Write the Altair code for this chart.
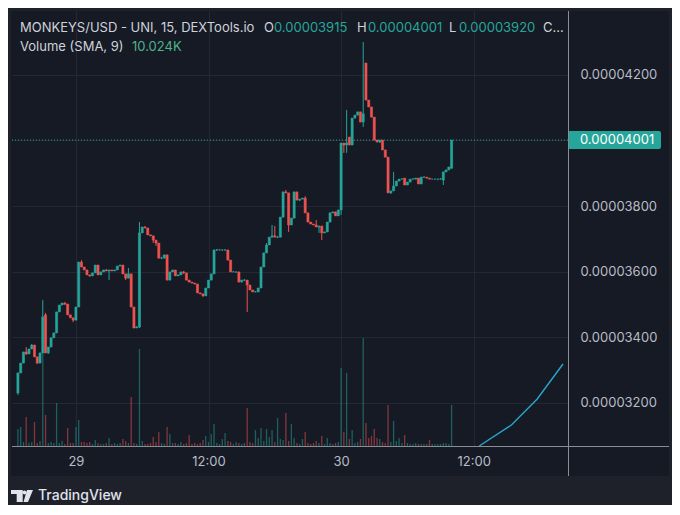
import altair as alt
import pandas as pd
import numpy as np

SCALE = 1e-8  # prices below are in units of 0.00000001 USD

O = [3230,3291,3321,3355,3349,3364,3376,3340,3321,3352,
     3468,3352,3370,3398,3413,3477,3498,3504,3501,3468,
     3459,3452,3492,3629,3614,3605,3590,3587,3596,3620,
     3590,3599,3605,3602,3605,3602,3605,3617,3620,3593,
     3580,3593,3492,3428,3431,3718,3736,3733,3712,3709,
     3696,3687,3641,3641,3651,3574,3599,3605,3587,3590,
     3599,3596,3574,3568,3565,3562,3535,3532,3526,3550,
     3574,3593,3666,3666,3666,3666,3666,3635,3599,3599,
     3599,3568,3574,3574,3559,3544,3538,3538,3550,3614,
     3657,3681,3705,3709,3705,3705,3766,3843,3840,3742,
     3763,3843,3818,3821,3824,3779,3751,3745,3742,3736,
     3739,3718,3721,3751,3779,3782,3770,3788,3992,3986,
     4010,3986,4068,4077,4087,4056,4236,4123,4102,4071,
     4001,3995,4001,3971,3949,3840,3846,3861,3876,3882,
     3885,3864,3873,3882,3882,3885,3867,3888,3888,3885,
     3882,3882,3882,3882,3879,3904,3910,3915]
H = [3291,3321,3355,3370,3364,3379,3376,3340,3352,3513,
     3474,3370,3398,3413,3477,3498,3504,3507,3501,3468,
     3459,3492,3629,3635,3614,3605,3590,3596,3620,3620,
     3599,3605,3608,3605,3605,3605,3617,3620,3620,3593,
     3611,3593,3492,3434,3751,3736,3739,3733,3712,3709,
     3696,3687,3645,3651,3651,3599,3605,3605,3590,3599,
     3602,3596,3574,3568,3565,3562,3535,3532,3550,3574,
     3593,3666,3669,3669,3666,3668,3666,3635,3602,3599,
     3599,3574,3577,3574,3559,3544,3541,3550,3614,3657,
     3687,3705,3742,3739,3709,3766,3843,3849,3840,3763,
     3843,3843,3821,3824,3830,3779,3751,3745,3757,3739,
     3739,3721,3751,3779,3782,3782,3788,3992,3992,4093,
     4010,4068,4077,4087,4087,4300,4236,4123,4102,4071,
     4001,4001,4001,3971,3949,3846,3904,3876,3882,3885,
     3885,3873,3882,3885,3885,3885,3888,3891,3888,3885,
     3882,3882,3882,3885,3904,3910,3919,4001]
L = [3224,3291,3321,3346,3349,3364,3340,3318,3321,3352,
     3352,3349,3370,3398,3413,3477,3498,3498,3468,3459,
     3446,3452,3492,3614,3605,3590,3584,3587,3596,3590,
     3590,3599,3602,3574,3602,3602,3605,3617,3593,3574,
     3580,3492,3428,3428,3428,3718,3733,3712,3709,3687,
     3678,3641,3638,3641,3574,3574,3599,3587,3587,3590,
     3593,3574,3568,3565,3562,3535,3532,3523,3526,3550,
     3574,3593,3663,3666,3663,3664,3635,3599,3599,3596,
     3568,3568,3571,3477,3544,3538,3538,3538,3550,3614,
     3657,3681,3705,3705,3702,3705,3766,3840,3721,3742,
     3763,3818,3815,3821,3779,3751,3745,3742,3736,3718,
     3696,3718,3721,3751,3779,3770,3770,3773,3962,3962,
     3986,3986,4068,4077,4056,4041,4123,4102,4071,4001,
     3995,3992,3971,3949,3840,3837,3846,3861,3876,3882,
     3864,3864,3873,3882,3882,3867,3867,3888,3885,3882,
     3882,3882,3879,3882,3864,3904,3910,3915]
C = [3291,3321,3355,3349,3364,3376,3340,3321,3352,3462,
     3352,3370,3398,3413,3477,3498,3504,3501,3468,3459,
     3452,3492,3629,3614,3605,3590,3587,3596,3620,3590,
     3599,3605,3602,3605,3602,3605,3617,3620,3593,3580,
     3593,3492,3428,3431,3718,3736,3733,3712,3709,3696,
     3687,3641,3641,3651,3574,3599,3605,3587,3590,3599,
     3596,3574,3568,3565,3562,3535,3532,3526,3550,3574,
     3593,3666,3666,3666,3666,3666,3635,3599,3599,3599,
     3568,3574,3574,3559,3544,3538,3538,3550,3614,3657,
     3681,3705,3709,3705,3705,3766,3843,3840,3742,3763,
     3843,3818,3821,3824,3779,3751,3745,3742,3736,3739,
     3718,3721,3751,3779,3782,3770,3788,3992,3986,3992,
     3986,4068,4077,4087,4056,4081,4123,4102,4071,4001,
     3995,4001,3971,3949,3840,3846,3861,3876,3882,3882,
     3864,3873,3882,3882,3885,3867,3888,3888,3885,3882,
     3882,3882,3882,3882,3904,3910,3919,4001]
VOL = [17,19,4,29,3,4,24,3,5,120,
       31,3,4,3,43,3,5,2,18,3,
       3,19,26,4,4,3,4,2,6,3,
       2,2,3,8,2,3,2,3,7,5,
       3,49,3,2,97,5,2,2,3,9,
       4,14,3,2,19,12,3,3,2,4,
       2,3,11,2,3,2,3,6,10,4,
       12,22,3,2,7,13,5,4,2,4,
       3,2,3,38,4,3,16,8,18,5,
       17,9,16,4,28,7,6,33,5,22,
       8,3,2,7,14,3,2,3,5,3,
       10,2,8,3,2,3,4,78,14,73,
       7,16,3,4,7,108,23,8,10,17,
       8,7,4,3,41,4,25,5,8,3,
       11,3,2,2,3,2,2,2,2,6,
       2,2,2,2,3,3,2,41]  # thousands

SMA_T = ["2024-05-30T12:30:00", "2024-05-30T15:25:00", "2024-05-30T17:45:00", "2024-05-30T20:05:00"]
SMA_V = [0, 21, 47, 82]

PRICE_TICKS = [3200, 3400, 3600, 3800, 4000, 4200]
LAST_PRICE = 4001
LAST_LABEL = "0.00004001"

HEAD_TEXT = ["MONKEYS/USD - UNI, 15, DEXTools.io", "O", "0.00003915", "H", "0.00004001",
             "L", "0.00003920", "C...", "Volume (SMA, 9)", "10.024K"]

UP, DOWN = "#26a69a", "#ef5350"
INNER, OUTER = "#161a25", "#1e212a"
GRID = "#242834"
LABEL = "#b9bcc4"
TXT = "#cfd2d9"
HEAD_COLOR = [TXT, TXT, UP, TXT, UP, TXT, UP, TXT, TXT, "#4db38a"]
HEAD_X = [8, 252, 262, 345, 356, 437, 447, 531, 8, 120]
HEAD_Y = [17, 17, 17, 17, 17, 17, 17, 17, 36, 36]

W, Hh = 556, 435

times = pd.date_range("2024-05-28 18:45", periods=len(O), freq="15min")
df = pd.DataFrame({
    "t": times,
    "O": np.array(O) * SCALE, "H": np.array(H) * SCALE,
    "L": np.array(L) * SCALE, "C": np.array(C) * SCALE,
    "V": VOL,
})
df["col"] = np.where(df["C"] >= df["O"], UP, DOWN)
sma = pd.DataFrame({"t": pd.to_datetime(SMA_T), "v": SMA_V})
last = pd.DataFrame({"p": [LAST_PRICE * SCALE], "s": [LAST_LABEL]})

xscale = alt.Scale(domain=[alt.DateTime(year=2024, month=5, date=28, hours=18, minutes=40),
                           alt.DateTime(year=2024, month=5, date=30, hours=20, minutes=5)])
xaxis = alt.Axis(
    values=[alt.DateTime(year=2024, month=5, date=29, hours=0),
            alt.DateTime(year=2024, month=5, date=29, hours=12),
            alt.DateTime(year=2024, month=5, date=30, hours=0),
            alt.DateTime(year=2024, month=5, date=30, hours=12)],
    labelExpr="hours(datum.value) == 0 ? date(datum.value) : '12:00'",
    grid=True, gridColor=GRID, domain=False, ticks=False, tickSize=0,
    labelPadding=15, labelBaseline="middle", title=None,
    labelFont="Inter", labelFontSize=13, labelColor=LABEL, labelFlush=False,
)
X = alt.X("t:T", scale=xscale, axis=xaxis)

yscale = alt.Scale(domain=[3068.2 * SCALE, 4394.6 * SCALE], nice=False, zero=False)
# the 0.00004000 label sits under the last-price tag, so it is left blank
yaxis = alt.Axis(orient="right", values=[v * SCALE for v in PRICE_TICKS], format=".8f",
                 labelExpr="abs(datum.value - 0.00004) < 0.0000001 ? '' : datum.label",
                 labelPadding=12, ticks=False, tickSize=0, domain=False, grid=True,
                 gridColor=GRID, labelColor=LABEL, labelFont="Inter", labelFontSize=13,
                 title=None)
vscale = alt.Scale(domain=[0, 435], nice=False)

# volume group
vol = alt.Chart(df).mark_bar(size=1.3, opacity=0.5).encode(
    x=X, y=alt.Y("V:Q", scale=vscale, axis=None),
    color=alt.Color("col:N", scale=None))
sma_line = alt.Chart(sma).mark_line(color="#29a7c9", strokeWidth=1.4).encode(
    x=X, y=alt.Y("v:Q", scale=vscale, axis=None))
vol_group = alt.layer(vol, sma_line)

# price group
dotted = alt.Chart(last).mark_rule(color=UP, strokeDash=[1, 2], strokeWidth=1).encode(
    y=alt.Y("p:Q", scale=yscale, axis=yaxis))
wicks = alt.Chart(df).mark_rule(strokeWidth=1).encode(
    x=X, y=alt.Y("L:Q", scale=yscale, axis=yaxis), y2="H:Q",
    color=alt.Color("col:N", scale=None))
bodies = alt.Chart(df).mark_bar(size=2.1, strokeWidth=0.6).encode(
    x=X, y=alt.Y("O:Q", scale=yscale, axis=yaxis), y2="C:Q",
    color=alt.Color("col:N", scale=None), stroke=alt.Color("col:N", scale=None))
tag = alt.Chart(last).mark_rect(color=UP, yOffset=-9, y2Offset=9, cornerRadius=2).encode(
    x=alt.value(W), x2=alt.value(W + 93),
    y=alt.Y("p:Q", scale=yscale, axis=yaxis), y2="p:Q")
tag_text = alt.Chart(last).mark_text(align="left", baseline="middle", font="Inter",
                                     fontSize=13, color="#ffffff").encode(
    x=alt.value(W + 12), y=alt.Y("p:Q", scale=yscale, axis=yaxis), text="s:N")
price_group = alt.layer(dotted, wicks, bodies, tag, tag_text)

# frame and dividers
frame_df = pd.DataFrame({"x": [-4, -4, -4, 657], "x2": [660, 660, -1, 660],
                         "y": [-3, 465, -3, -3], "y2": [0, 494, 465, 465]})
frames = [alt.Chart(frame_df.iloc[[i]]).mark_rect(color=OUTER).encode(
    x=alt.value(int(r.x)), x2=alt.value(int(r.x2)), y=alt.value(int(r.y)), y2=alt.value(int(r.y2)))
    for i, r in enumerate(frame_df.itertuples())]
div_v = alt.Chart(last).mark_rule(color="#8a8d96", strokeWidth=1).encode(
    x=alt.value(W + 0.5), y=alt.value(0), y2=alt.value(465))
div_h = alt.Chart(last).mark_rule(color="#8a8d96", strokeWidth=1).encode(
    x=alt.value(0), x2=alt.value(657), y=alt.value(Hh + 0.5))

texts = []
for s, c, px, py in zip(HEAD_TEXT, HEAD_COLOR, HEAD_X, HEAD_Y):
    texts.append(alt.Chart(pd.DataFrame({"s": [s]})).mark_text(
        align="left", baseline="middle", font="Inter", fontSize=13, color=c).encode(
        x=alt.value(px), y=alt.value(py), text="s:N"))

LOGO = ("M-1,-0.545L0.064,-0.545L0.064,0.545L-0.482,0.545L-0.482,-0.182L-1,-0.182Z "
        "M0.054,-0.318A0.173,0.173 0 1,0 0.4,-0.318A0.173,0.173 0 1,0 0.054,-0.318Z "
        "M0.455,-0.545L1,-0.545L0.545,0.545L0.136,0.545Z")
logo = alt.Chart(pd.DataFrame({"s": ["TradingView"]})).mark_point(
    shape=LOGO, filled=True, size=484, color="#e0e3eb", opacity=1, strokeWidth=0).encode(
    x=alt.value(10), y=alt.value(485))
brand = alt.Chart(pd.DataFrame({"s": ["TradingView"]})).mark_text(
    align="left", baseline="middle", font="Inter", fontSize=14, fontWeight=500,
    color="#e0e3eb").encode(x=alt.value(26), y=alt.value(485), text="s:N")

chart = alt.layer(
    vol_group, price_group, *frames, div_v, div_h, *texts, logo, brand
).resolve_scale(y="independent").properties(
    width=W, height=Hh,
    autosize=alt.AutoSizeParams(type="none"),
    padding={"left": 4, "top": 3, "right": 104, "bottom": 59},
).configure(background=INNER).configure_view(stroke=None)

chart.save("out.html", embed_options={"renderer": "svg", "actions": False})
